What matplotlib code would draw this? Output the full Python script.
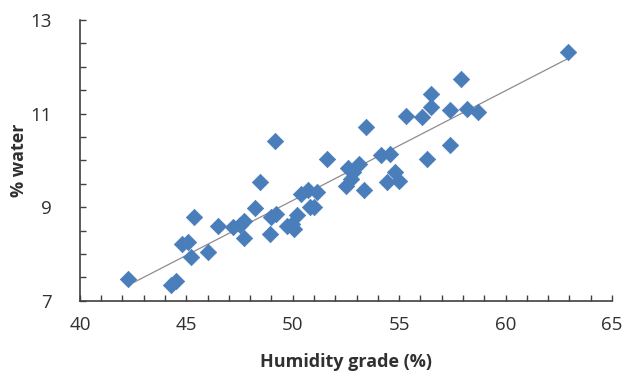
import numpy as np
import matplotlib
matplotlib.use("Agg")
import matplotlib.pyplot as plt
from matplotlib.ticker import MultipleLocator

humidity = [42.25, 44.3, 44.5, 44.8, 45.1, 45.2, 45.35, 46.0, 46.5, 47.2, 47.5, 47.7, 47.7,
            48.25, 48.45, 48.95, 49.0, 49.2, 49.15, 49.75, 49.95, 50.05, 50.2, 50.4, 50.7,
            50.8, 51.0, 51.15, 51.6, 52.5, 52.6, 52.75, 52.85, 53.1, 53.35, 53.45, 54.15,
            54.45, 54.55, 54.8, 55.0, 55.3, 56.05, 56.3, 56.5, 56.5, 57.4, 57.4, 57.9, 58.2,
            58.7, 62.95]
water = [7.46, 7.34, 7.43, 8.21, 8.25, 7.93, 8.79, 8.04, 8.61, 8.57, 8.62, 8.71, 8.34,
         8.98, 9.54, 8.43, 8.79, 8.86, 10.41, 8.61, 8.64, 8.54, 8.84, 9.29, 9.36,
         9.0, 9.0, 9.32, 10.04, 9.46, 9.84, 9.61, 9.75, 9.93, 9.36, 10.71, 10.11,
         9.54, 10.14, 9.75, 9.57, 10.96, 10.93, 10.04, 11.43, 11.14, 11.07, 10.34, 11.75, 11.11,
         11.04, 12.32]

x_ticks = [40, 45, 50, 55, 60, 65]
y_ticks = [7, 9, 11, 13]

fig = plt.figure(figsize=(6.29, 3.71), dpi=100)
ax = fig.add_axes([0.127, 0.189, 0.846, 0.757])

ax.scatter(humidity, water, marker="D", s=70, color="#4a7ebb", edgecolors="#4a7ebb",
           linewidths=0.5, zorder=3)

coef = np.polyfit(humidity, water, 1)
xs = np.array([min(humidity) + 0.3, max(humidity) - 0.1])
ax.plot(xs, np.polyval(coef, xs), color="#8c8c8c", lw=0.9, zorder=2)

ax.set_xlim(40, 65)
ax.set_ylim(7, 13)
ax.set_xticks(x_ticks)
ax.set_yticks(y_ticks)
ax.xaxis.set_minor_locator(MultipleLocator(1))
ax.yaxis.set_minor_locator(MultipleLocator(0.5))
ax.tick_params(which="both", direction="in", length=4, width=1, color="#404040")
ax.tick_params(which="major", labelsize=13.5, labelcolor="#303030")
ax.tick_params(axis="x", which="major", pad=11)
ax.tick_params(axis="y", which="major", pad=20)

for s in ["top", "right"]:
    ax.spines[s].set_visible(False)
for s in ["left", "bottom"]:
    ax.spines[s].set_color("#404040")
    ax.spines[s].set_linewidth(1.2)

font = "Open Sans"
for t in ax.get_xticklabels() + ax.get_yticklabels():
    t.set_fontfamily(font)
ax.set_xlabel("Humidity grade (%)", fontsize=13, fontweight="bold", family=font,
              color="#303030")
ax.set_ylabel("% water", fontsize=13, fontweight="bold", family=font,
              color="#303030")
ax.xaxis.set_label_coords(0.5, -0.185)
ax.yaxis.set_label_coords(-0.098, 0.5)

fig.savefig("out.png", dpi=100)
